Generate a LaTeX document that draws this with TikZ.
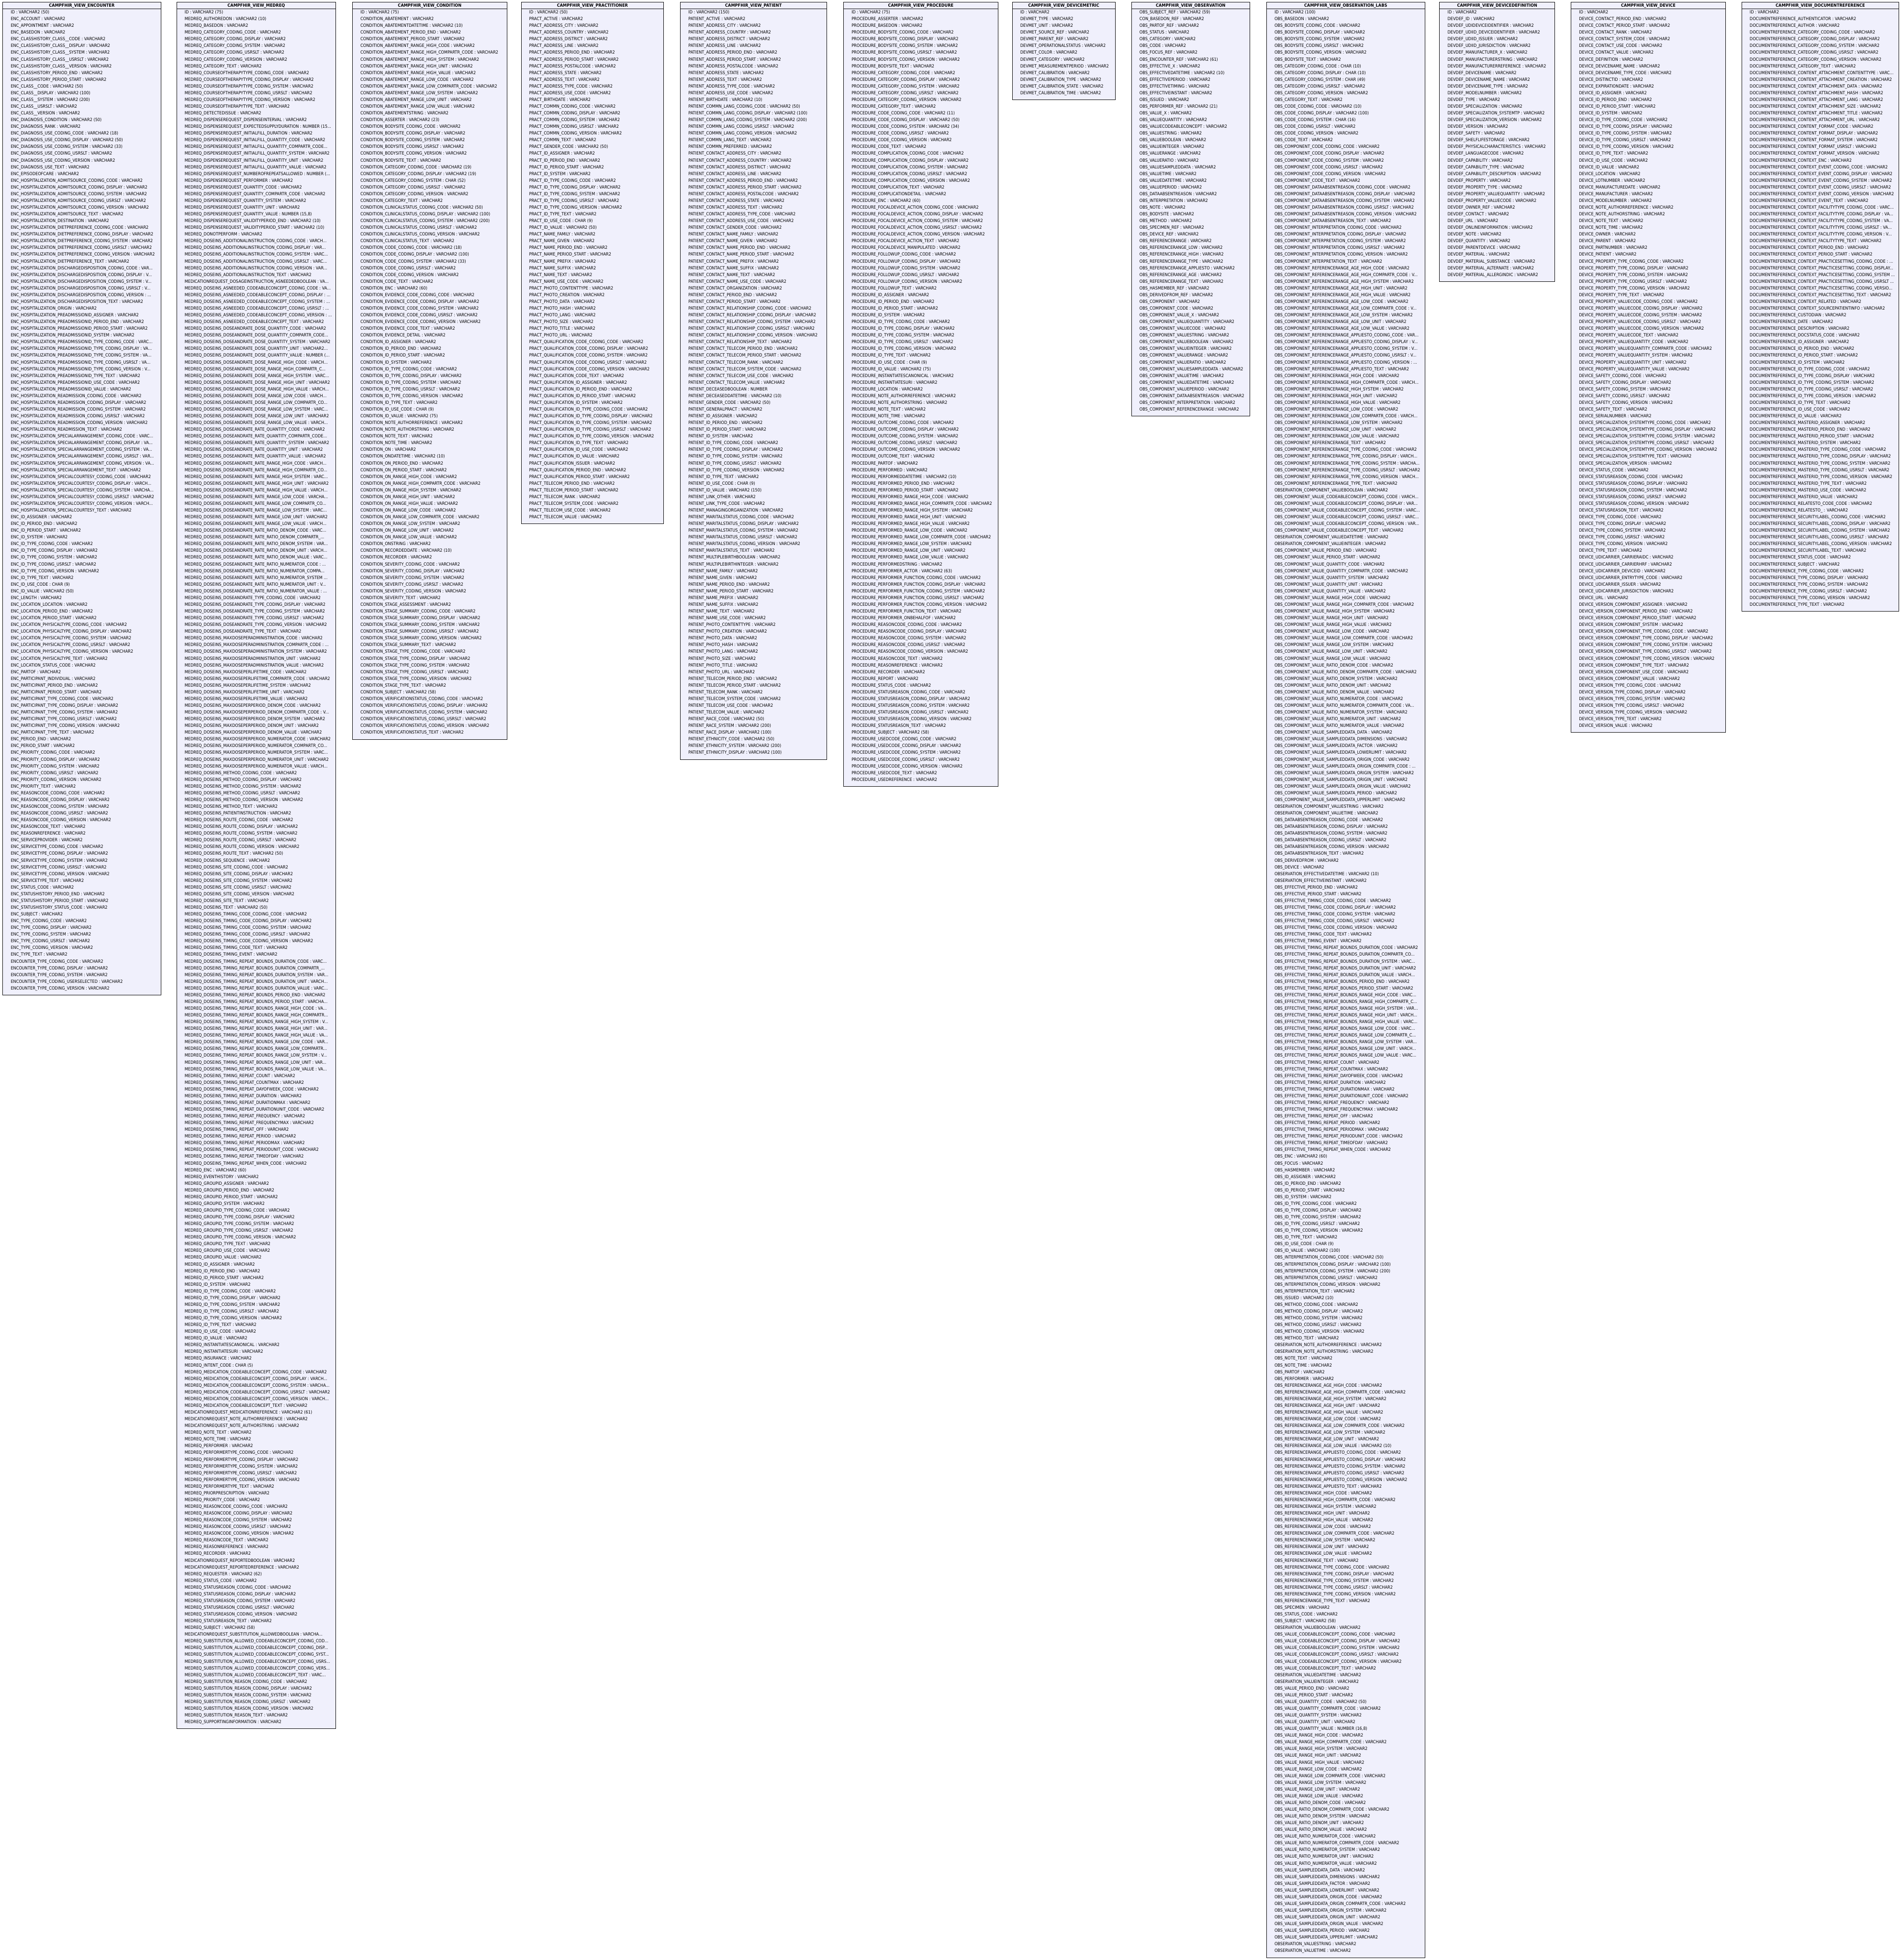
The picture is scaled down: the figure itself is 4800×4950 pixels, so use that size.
\documentclass[tikz,border=0pt]{standalone}
\usepackage{fontspec}
\usetikzlibrary{backgrounds}
\newfontfamily\tfont{DejaVu Sans}[FakeStretch=0.9]
\definecolor{tblfill}{RGB}{240,240,252}
\pgfdeclarelayer{bg}
\pgfsetlayers{bg,main}
\catcode`\_=12
\newcount\rc
\tikzset{
  rowtext/.style={anchor=base west, inner sep=0pt, font=\tfont\fontsize{11}{13}\selectfont},
  hdrtext/.style={anchor=base, inner sep=0pt, font=\tfont\bfseries\fontsize{11}{13}\selectfont},
  tblbox/.style={draw=black, line width=1pt, fill=tblfill},
  tblline/.style={draw=black, line width=1pt}
}
\newcommand\tblbegin[4]{\def\tbxl{#2}\def\tbxr{#3}\def\tbname{#1}\global\rc=0
  \node[hdrtext, name=#1] at ({(#2+#3)/2},17.5) {#4};}
\newcommand\tblend{\begin{pgfonlayer}{bg}\path[tblbox] (\tbxl,5) rectangle (\tbxr,{31+17*\the\rc});\end{pgfonlayer}
  \draw[tblline] (\tbxl,22) -- (\tbxr,22);}
\newcommand\rw[1]{\node[rowtext, name=\tbname-\the\rc] at ({\tbxl+20},{34.5+17*\the\rc}) {#1};\global\advance\rc by 1 }
\newcommand\rv[1]{\rw{#1 : VARCHAR2}}
\newcommand\cod[1]{\rv{#1_CODING_CODE}\rv{#1_CODING_DISPLAY}\rv{#1_CODING_SYSTEM}\rv{#1_CODING_USRSLT}\rv{#1_CODING_VERSION}}
\begin{document}
\begin{tikzpicture}[x=1pt,y=-1pt]
\useasboundingbox (0,0) rectangle (4800,4950);
%% ENCOUNTER
\tblbegin{enc}{7}{406}{CAMPFHIR_VIEW_ENCOUNTER}
\rw{ID : VARCHAR2 (50)}
\rv{ENC_ACCOUNT}\rv{ENC_APPOINTMENT}\rv{ENC_BASEDON}
\rv{ENC_CLASSHISTORY_CLASS__CODE}\rv{ENC_CLASSHISTORY_CLASS__DISPLAY}\rv{ENC_CLASSHISTORY_CLASS__SYSTEM}\rv{ENC_CLASSHISTORY_CLASS__USRSLT}\rv{ENC_CLASSHISTORY_CLASS__VERSION}
\rv{ENC_CLASSHISTORY_PERIOD_END}\rv{ENC_CLASSHISTORY_PERIOD_START}
\rw{ENC_CLASS__CODE : VARCHAR2 (50)}\rw{ENC_CLASS__DISPLAY : VARCHAR2 (100)}\rw{ENC_CLASS__SYSTEM : VARCHAR2 (200)}\rv{ENC_CLASS__USRSLT}\rv{ENC_CLASS__VERSION}
\rw{ENC_DIAGNOSIS_CONDITION : VARCHAR2 (50)}\rv{ENC_DIAGNOSIS_RANK}
\rw{ENC_DIAGNOSIS_USE_CODING_CODE : VARCHAR2 (18)}\rw{ENC_DIAGNOSIS_USE_CODING_DISPLAY : VARCHAR2 (50)}\rw{ENC_DIAGNOSIS_USE_CODING_SYSTEM : VARCHAR2 (33)}\rv{ENC_DIAGNOSIS_USE_CODING_USRSLT}\rv{ENC_DIAGNOSIS_USE_CODING_VERSION}
\rv{ENC_DIAGNOSIS_USE_TEXT}\rv{ENC_EPISODEOFCARE}
\cod{ENC_HOSPITALIZATION_ADMITSOURCE}\rv{ENC_HOSPITALIZATION_ADMITSOURCE_TEXT}
\rv{ENC_HOSPITALIZATION_DESTINATION}
\cod{ENC_HOSPITALIZATION_DIETPREFERENCE}\rv{ENC_HOSPITALIZATION_DIETPREFERENCE_TEXT}
\rw{ENC_HOSPITALIZATION_DISCHARGEDISPOSITION_CODING_CODE : VAR...}
\rw{ENC_HOSPITALIZATION_DISCHARGEDISPOSITION_CODING_DISPLAY : V...}
\rw{ENC_HOSPITALIZATION_DISCHARGEDISPOSITION_CODING_SYSTEM : V...}
\rw{ENC_HOSPITALIZATION_DISCHARGEDISPOSITION_CODING_USRSLT : V...}
\rw{ENC_HOSPITALIZATION_DISCHARGEDISPOSITION_CODING_VERSION : ...}
\rv{ENC_HOSPITALIZATION_DISCHARGEDISPOSITION_TEXT}
\rv{ENC_HOSPITALIZATION_ORIGIN}
\rv{ENC_HOSPITALIZATION_PREADMISSIONID_ASSIGNER}\rv{ENC_HOSPITALIZATION_PREADMISSIONID_PERIOD_END}\rv{ENC_HOSPITALIZATION_PREADMISSIONID_PERIOD_START}\rv{ENC_HOSPITALIZATION_PREADMISSIONID_SYSTEM}
\rw{ENC_HOSPITALIZATION_PREADMISSIONID_TYPE_CODING_CODE : VARC...}
\rw{ENC_HOSPITALIZATION_PREADMISSIONID_TYPE_CODING_DISPLAY : VA...}
\rw{ENC_HOSPITALIZATION_PREADMISSIONID_TYPE_CODING_SYSTEM : VA...}
\rw{ENC_HOSPITALIZATION_PREADMISSIONID_TYPE_CODING_USRSLT : VA...}
\rw{ENC_HOSPITALIZATION_PREADMISSIONID_TYPE_CODING_VERSION : V...}
\rv{ENC_HOSPITALIZATION_PREADMISSIONID_TYPE_TEXT}\rv{ENC_HOSPITALIZATION_PREADMISSIONID_USE_CODE}\rv{ENC_HOSPITALIZATION_PREADMISSIONID_VALUE}
\cod{ENC_HOSPITALIZATION_READMISSION}\rv{ENC_HOSPITALIZATION_READMISSION_TEXT}
\rw{ENC_HOSPITALIZATION_SPECIALARRANGEMENT_CODING_CODE : VARC...}
\rw{ENC_HOSPITALIZATION_SPECIALARRANGEMENT_CODING_DISPLAY : VA...}
\rw{ENC_HOSPITALIZATION_SPECIALARRANGEMENT_CODING_SYSTEM : VA...}
\rw{ENC_HOSPITALIZATION_SPECIALARRANGEMENT_CODING_USRSLT : VAR...}
\rw{ENC_HOSPITALIZATION_SPECIALARRANGEMENT_CODING_VERSION : VA...}
\rv{ENC_HOSPITALIZATION_SPECIALARRANGEMENT_TEXT}
\rv{ENC_HOSPITALIZATION_SPECIALCOURTESY_CODING_CODE}
\rw{ENC_HOSPITALIZATION_SPECIALCOURTESY_CODING_DISPLAY : VARCH...}
\rw{ENC_HOSPITALIZATION_SPECIALCOURTESY_CODING_SYSTEM : VARCHA...}
\rv{ENC_HOSPITALIZATION_SPECIALCOURTESY_CODING_USRSLT}
\rw{ENC_HOSPITALIZATION_SPECIALCOURTESY_CODING_VERSION : VARCH...}
\rv{ENC_HOSPITALIZATION_SPECIALCOURTESY_TEXT}
\rv{ENC_ID_ASSIGNER}\rv{ENC_ID_PERIOD_END}\rv{ENC_ID_PERIOD_START}\rv{ENC_ID_SYSTEM}
\cod{ENC_ID_TYPE}\rv{ENC_ID_TYPE_TEXT}
\rw{ENC_ID_USE_CODE : CHAR (9)}\rw{ENC_ID_VALUE : VARCHAR2 (50)}
\rv{ENC_LENGTH}\rv{ENC_LOCATION_LOCATION}\rv{ENC_LOCATION_PERIOD_END}\rv{ENC_LOCATION_PERIOD_START}
\cod{ENC_LOCATION_PHYSICALTYPE}\rv{ENC_LOCATION_PHYSICALTYPE_TEXT}
\rv{ENC_LOCATION_STATUS_CODE}\rv{ENC_PARTOF}
\rv{ENC_PARTICIPANT_INDIVIDUAL}\rv{ENC_PARTICIPANT_PERIOD_END}\rv{ENC_PARTICIPANT_PERIOD_START}
\cod{ENC_PARTICIPANT_TYPE}\rv{ENC_PARTICIPANT_TYPE_TEXT}
\rv{ENC_PERIOD_END}\rv{ENC_PERIOD_START}
\cod{ENC_PRIORITY}\rv{ENC_PRIORITY_TEXT}
\cod{ENC_REASONCODE}\rv{ENC_REASONCODE_TEXT}
\rv{ENC_REASONREFERENCE}\rv{ENC_SERVICEPROVIDER}
\cod{ENC_SERVICETYPE}\rv{ENC_SERVICETYPE_TEXT}
\rv{ENC_STATUS_CODE}\rv{ENC_STATUSHISTORY_PERIOD_END}\rv{ENC_STATUSHISTORY_PERIOD_START}\rv{ENC_STATUSHISTORY_STATUS_CODE}
\rv{ENC_SUBJECT}
\cod{ENC_TYPE}\rv{ENC_TYPE_TEXT}
\rv{ENCOUNTER_TYPE_CODING_CODE}\rv{ENCOUNTER_TYPE_CODING_DISPLAY}\rv{ENCOUNTER_TYPE_CODING_SYSTEM}\rv{ENCOUNTER_TYPE_CODING_USERSELECTED}\rv{ENCOUNTER_TYPE_CODING_VERSION}
\tblend
%% MEDREQ
\tblbegin{medreq}{446}{848}{CAMPFHIR_VIEW_MEDREQ}
\rw{ID : VARCHAR2 (75)}\rw{MEDREQ_AUTHOREDON : VARCHAR2 (10)}\rv{MEDREQ_BASEDON}
\cod{MEDREQ_CATEGORY}\rv{MEDREQ_CATEGORY_TEXT}
\cod{MEDREQ_COURSEOFTHERAPYTYPE}\rv{MEDREQ_COURSEOFTHERAPYTYPE_TEXT}
\rv{MEDREQ_DETECTEDISSUE}\rv{MEDREQ_DISPENSEREQUEST_DISPENSEINTERVAL}
\rw{MEDREQ_DISPENSEREQUEST_EXPECTEDSUPPLYDURATION : NUMBER (15...}
\rv{MEDREQ_DISPENSEREQUEST_INITIALFILL_DURATION}
\rv{MEDREQ_DISPENSEREQUEST_INITIALFILL_QUANTITY_CODE}
\rw{MEDREQ_DISPENSEREQUEST_INITIALFILL_QUANTITY_COMPARTR_CODE...}
\rv{MEDREQ_DISPENSEREQUEST_INITIALFILL_QUANTITY_SYSTEM}
\rv{MEDREQ_DISPENSEREQUEST_INITIALFILL_QUANTITY_UNIT}
\rv{MEDREQ_DISPENSEREQUEST_INITIALFILL_QUANTITY_VALUE}
\rw{MEDREQ_DISPENSEREQUEST_NUMBEROFREPEATSALLOWED : NUMBER (...}
\rv{MEDREQ_DISPENSEREQUEST_PERFORMER}
\rv{MEDREQ_DISPENSEREQUEST_QUANTITY_CODE}\rv{MEDREQ_DISPENSEREQUEST_QUANTITY_COMPARTR_CODE}\rv{MEDREQ_DISPENSEREQUEST_QUANTITY_SYSTEM}\rv{MEDREQ_DISPENSEREQUEST_QUANTITY_UNIT}
\rw{MEDREQ_DISPENSEREQUEST_QUANTITY_VALUE : NUMBER (15,8)}
\rw{MEDREQ_DISPENSEREQUEST_VALIDITYPERIOD_END : VARCHAR2 (10)}
\rw{MEDREQ_DISPENSEREQUEST_VALIDITYPERIOD_START : VARCHAR2 (10)}
\rv{MEDREQ_DONOTPERFORM}
\rw{MEDREQ_DOSEINS_ADDITIONALINSTRUCTION_CODING_CODE : VARCH...}
\rw{MEDREQ_DOSEINS_ADDITIONALINSTRUCTION_CODING_DISPLAY : VAR...}
\rw{MEDREQ_DOSEINS_ADDITIONALINSTRUCTION_CODING_SYSTEM : VARC...}
\rw{MEDREQ_DOSEINS_ADDITIONALINSTRUCTION_CODING_USRSLT : VARC...}
\rw{MEDREQ_DOSEINS_ADDITIONALINSTRUCTION_CODING_VERSION : VAR...}
\rv{MEDREQ_DOSEINS_ADDITIONALINSTRUCTION_TEXT}
\rw{MEDICATIONREQUEST_DOSAGEINSTRUCTION_ASNEEDEDBOOLEAN : VA...}
\rw{MEDREQ_DOSEINS_ASNEEDED_CODEABLECONCEPT_CODING_CODE : VA...}
\rw{MEDREQ_DOSEINS_ASNEEDED_CODEABLECONCEPT_CODING_DISPLAY : ...}
\rw{MEDREQ_DOSEINS_ASNEEDED_CODEABLECONCEPT_CODING_SYSTEM : ...}
\rw{MEDREQ_DOSEINS_ASNEEDED_CODEABLECONCEPT_CODING_USRSLT : ...}
\rw{MEDREQ_DOSEINS_ASNEEDED_CODEABLECONCEPT_CODING_VERSION : ...}
\rv{MEDREQ_DOSEINS_ASNEEDED_CODEABLECONCEPT_TEXT}
\rv{MEDREQ_DOSEINS_DOSEANDRATE_DOSE_QUANTITY_CODE}
\rw{MEDREQ_DOSEINS_DOSEANDRATE_DOSE_QUANTITY_COMPARTR_CODE...}
\rv{MEDREQ_DOSEINS_DOSEANDRATE_DOSE_QUANTITY_SYSTEM}
\rw{MEDREQ_DOSEINS_DOSEANDRATE_DOSE_QUANTITY_UNIT : VARCHAR2...}
\rw{MEDREQ_DOSEINS_DOSEANDRATE_DOSE_QUANTITY_VALUE : NUMBER (...}
\rw{MEDREQ_DOSEINS_DOSEANDRATE_DOSE_RANGE_HIGH_CODE : VARCH...}
\rw{MEDREQ_DOSEINS_DOSEANDRATE_DOSE_RANGE_HIGH_COMPARTR_C...}
\rw{MEDREQ_DOSEINS_DOSEANDRATE_DOSE_RANGE_HIGH_SYSTEM : VARC...}
\rv{MEDREQ_DOSEINS_DOSEANDRATE_DOSE_RANGE_HIGH_UNIT}
\rw{MEDREQ_DOSEINS_DOSEANDRATE_DOSE_RANGE_HIGH_VALUE : VARCH...}
\rw{MEDREQ_DOSEINS_DOSEANDRATE_DOSE_RANGE_LOW_CODE : VARCH...}
\rw{MEDREQ_DOSEINS_DOSEANDRATE_DOSE_RANGE_LOW_COMPARTR_CO...}
\rw{MEDREQ_DOSEINS_DOSEANDRATE_DOSE_RANGE_LOW_SYSTEM : VARC...}
\rv{MEDREQ_DOSEINS_DOSEANDRATE_DOSE_RANGE_LOW_UNIT}
\rw{MEDREQ_DOSEINS_DOSEANDRATE_DOSE_RANGE_LOW_VALUE : VARCH...}
\rv{MEDREQ_DOSEINS_DOSEANDRATE_RATE_QUANTITY_CODE}
\rw{MEDREQ_DOSEINS_DOSEANDRATE_RATE_QUANTITY_COMPARTR_CODE...}
\rv{MEDREQ_DOSEINS_DOSEANDRATE_RATE_QUANTITY_SYSTEM}
\rv{MEDREQ_DOSEINS_DOSEANDRATE_RATE_QUANTITY_UNIT}
\rv{MEDREQ_DOSEINS_DOSEANDRATE_RATE_QUANTITY_VALUE}
\rw{MEDREQ_DOSEINS_DOSEANDRATE_RATE_RANGE_HIGH_CODE : VARCH...}
\rw{MEDREQ_DOSEINS_DOSEANDRATE_RATE_RANGE_HIGH_COMPARTR_CO...}
\rw{MEDREQ_DOSEINS_DOSEANDRATE_RATE_RANGE_HIGH_SYSTEM : VARC...}
\rv{MEDREQ_DOSEINS_DOSEANDRATE_RATE_RANGE_HIGH_UNIT}
\rw{MEDREQ_DOSEINS_DOSEANDRATE_RATE_RANGE_HIGH_VALUE : VARCH...}
\rw{MEDREQ_DOSEINS_DOSEANDRATE_RATE_RANGE_LOW_CODE : VARCHA...}
\rw{MEDREQ_DOSEINS_DOSEANDRATE_RATE_RANGE_LOW_COMPARTR_CO...}
\rw{MEDREQ_DOSEINS_DOSEANDRATE_RATE_RANGE_LOW_SYSTEM : VARC...}
\rv{MEDREQ_DOSEINS_DOSEANDRATE_RATE_RANGE_LOW_UNIT}
\rw{MEDREQ_DOSEINS_DOSEANDRATE_RATE_RANGE_LOW_VALUE : VARCH...}
\rw{MEDREQ_DOSEINS_DOSEANDRATE_RATE_RATIO_DENOM_CODE : VARC...}
\rw{MEDREQ_DOSEINS_DOSEANDRATE_RATE_RATIO_DENOM_COMPARTR_...}
\rw{MEDREQ_DOSEINS_DOSEANDRATE_RATE_RATIO_DENOM_SYSTEM : VAR...}
\rw{MEDREQ_DOSEINS_DOSEANDRATE_RATE_RATIO_DENOM_UNIT : VARCH...}
\rw{MEDREQ_DOSEINS_DOSEANDRATE_RATE_RATIO_DENOM_VALUE : VARC...}
\rw{MEDREQ_DOSEINS_DOSEANDRATE_RATE_RATIO_NUMERATOR_CODE : ...}
\rw{MEDREQ_DOSEINS_DOSEANDRATE_RATE_RATIO_NUMERATOR_COMPA...}
\rw{MEDREQ_DOSEINS_DOSEANDRATE_RATE_RATIO_NUMERATOR_SYSTEM ...}
\rw{MEDREQ_DOSEINS_DOSEANDRATE_RATE_RATIO_NUMERATOR_UNIT : V...}
\rw{MEDREQ_DOSEINS_DOSEANDRATE_RATE_RATIO_NUMERATOR_VALUE : ...}
\cod{MEDREQ_DOSEINS_DOSEANDRATE_TYPE}\rv{MEDREQ_DOSEINS_DOSEANDRATE_TYPE_TEXT}
\rv{MEDREQ_DOSEINS_MAXDOSEPERADMINISTRATION_CODE}
\rw{MEDREQ_DOSEINS_MAXDOSEPERADMINISTRATION_COMPARTR_CODE : ...}
\rv{MEDREQ_DOSEINS_MAXDOSEPERADMINISTRATION_SYSTEM}\rv{MEDREQ_DOSEINS_MAXDOSEPERADMINISTRATION_UNIT}\rv{MEDREQ_DOSEINS_MAXDOSEPERADMINISTRATION_VALUE}
\rv{MEDREQ_DOSEINS_MAXDOSEPERLIFETIME_CODE}\rv{MEDREQ_DOSEINS_MAXDOSEPERLIFETIME_COMPARTR_CODE}\rv{MEDREQ_DOSEINS_MAXDOSEPERLIFETIME_SYSTEM}\rv{MEDREQ_DOSEINS_MAXDOSEPERLIFETIME_UNIT}\rv{MEDREQ_DOSEINS_MAXDOSEPERLIFETIME_VALUE}
\rv{MEDREQ_DOSEINS_MAXDOSEPERPERIOD_DENOM_CODE}
\rw{MEDREQ_DOSEINS_MAXDOSEPERPERIOD_DENOM_COMPARTR_CODE : V...}
\rv{MEDREQ_DOSEINS_MAXDOSEPERPERIOD_DENOM_SYSTEM}\rv{MEDREQ_DOSEINS_MAXDOSEPERPERIOD_DENOM_UNIT}\rv{MEDREQ_DOSEINS_MAXDOSEPERPERIOD_DENOM_VALUE}
\rv{MEDREQ_DOSEINS_MAXDOSEPERPERIOD_NUMERATOR_CODE}
\rw{MEDREQ_DOSEINS_MAXDOSEPERPERIOD_NUMERATOR_COMPARTR_CO...}
\rw{MEDREQ_DOSEINS_MAXDOSEPERPERIOD_NUMERATOR_SYSTEM : VARC...}
\rv{MEDREQ_DOSEINS_MAXDOSEPERPERIOD_NUMERATOR_UNIT}
\rw{MEDREQ_DOSEINS_MAXDOSEPERPERIOD_NUMERATOR_VALUE : VARCH...}
\cod{MEDREQ_DOSEINS_METHOD}\rv{MEDREQ_DOSEINS_METHOD_TEXT}
\rv{MEDREQ_DOSEINS_PATIENTINSTRUCTION}
\cod{MEDREQ_DOSEINS_ROUTE}\rw{MEDREQ_DOSEINS_ROUTE_TEXT : VARCHAR2 (50)}
\rv{MEDREQ_DOSEINS_SEQUENCE}
\cod{MEDREQ_DOSEINS_SITE}\rv{MEDREQ_DOSEINS_SITE_TEXT}
\rw{MEDREQ_DOSEINS_TEXT : VARCHAR2 (50)}
\cod{MEDREQ_DOSEINS_TIMING_CODE}\rv{MEDREQ_DOSEINS_TIMING_CODE_TEXT}
\rv{MEDREQ_DOSEINS_TIMING_EVENT}
\rw{MEDREQ_DOSEINS_TIMING_REPEAT_BOUNDS_DURATION_CODE : VARC...}
\rw{MEDREQ_DOSEINS_TIMING_REPEAT_BOUNDS_DURATION_COMPARTR_...}
\rw{MEDREQ_DOSEINS_TIMING_REPEAT_BOUNDS_DURATION_SYSTEM : VAR...}
\rw{MEDREQ_DOSEINS_TIMING_REPEAT_BOUNDS_DURATION_UNIT : VARCH...}
\rw{MEDREQ_DOSEINS_TIMING_REPEAT_BOUNDS_DURATION_VALUE : VARC...}
\rv{MEDREQ_DOSEINS_TIMING_REPEAT_BOUNDS_PERIOD_END}
\rw{MEDREQ_DOSEINS_TIMING_REPEAT_BOUNDS_PERIOD_START : VARCHA...}
\rw{MEDREQ_DOSEINS_TIMING_REPEAT_BOUNDS_RANGE_HIGH_CODE : VA...}
\rw{MEDREQ_DOSEINS_TIMING_REPEAT_BOUNDS_RANGE_HIGH_COMPARTR...}
\rw{MEDREQ_DOSEINS_TIMING_REPEAT_BOUNDS_RANGE_HIGH_SYSTEM : V...}
\rw{MEDREQ_DOSEINS_TIMING_REPEAT_BOUNDS_RANGE_HIGH_UNIT : VAR...}
\rw{MEDREQ_DOSEINS_TIMING_REPEAT_BOUNDS_RANGE_HIGH_VALUE : VA...}
\rw{MEDREQ_DOSEINS_TIMING_REPEAT_BOUNDS_RANGE_LOW_CODE : VAR...}
\rw{MEDREQ_DOSEINS_TIMING_REPEAT_BOUNDS_RANGE_LOW_COMPARTR...}
\rw{MEDREQ_DOSEINS_TIMING_REPEAT_BOUNDS_RANGE_LOW_SYSTEM : V...}
\rw{MEDREQ_DOSEINS_TIMING_REPEAT_BOUNDS_RANGE_LOW_UNIT : VAR...}
\rw{MEDREQ_DOSEINS_TIMING_REPEAT_BOUNDS_RANGE_LOW_VALUE : VA...}
\rv{MEDREQ_DOSEINS_TIMING_REPEAT_COUNT}\rv{MEDREQ_DOSEINS_TIMING_REPEAT_COUNTMAX}\rv{MEDREQ_DOSEINS_TIMING_REPEAT_DAYOFWEEK_CODE}\rv{MEDREQ_DOSEINS_TIMING_REPEAT_DURATION}\rv{MEDREQ_DOSEINS_TIMING_REPEAT_DURATIONMAX}\rv{MEDREQ_DOSEINS_TIMING_REPEAT_DURATIONUNIT_CODE}\rv{MEDREQ_DOSEINS_TIMING_REPEAT_FREQUENCY}\rv{MEDREQ_DOSEINS_TIMING_REPEAT_FREQUENCYMAX}\rv{MEDREQ_DOSEINS_TIMING_REPEAT_OFF}\rv{MEDREQ_DOSEINS_TIMING_REPEAT_PERIOD}\rv{MEDREQ_DOSEINS_TIMING_REPEAT_PERIODMAX}\rv{MEDREQ_DOSEINS_TIMING_REPEAT_PERIODUNIT_CODE}\rv{MEDREQ_DOSEINS_TIMING_REPEAT_TIMEOFDAY}\rv{MEDREQ_DOSEINS_TIMING_REPEAT_WHEN_CODE}
\rw{MEDREQ_ENC : VARCHAR2 (60)}\rv{MEDREQ_EVENTHISTORY}
\rv{MEDREQ_GROUPID_ASSIGNER}\rv{MEDREQ_GROUPID_PERIOD_END}\rv{MEDREQ_GROUPID_PERIOD_START}\rv{MEDREQ_GROUPID_SYSTEM}
\cod{MEDREQ_GROUPID_TYPE}\rv{MEDREQ_GROUPID_TYPE_TEXT}\rv{MEDREQ_GROUPID_USE_CODE}\rv{MEDREQ_GROUPID_VALUE}
\rv{MEDREQ_ID_ASSIGNER}\rv{MEDREQ_ID_PERIOD_END}\rv{MEDREQ_ID_PERIOD_START}\rv{MEDREQ_ID_SYSTEM}
\cod{MEDREQ_ID_TYPE}\rv{MEDREQ_ID_TYPE_TEXT}\rv{MEDREQ_ID_USE_CODE}\rv{MEDREQ_ID_VALUE}
\rv{MEDREQ_INSTANTIATESCANONICAL}\rv{MEDREQ_INSTANTIATESURI}\rv{MEDREQ_INSURANCE}
\rw{MEDREQ_INTENT_CODE : CHAR (5)}
\rv{MEDREQ_MEDICATION_CODEABLECONCEPT_CODING_CODE}
\rw{MEDREQ_MEDICATION_CODEABLECONCEPT_CODING_DISPLAY : VARCH...}
\rw{MEDREQ_MEDICATION_CODEABLECONCEPT_CODING_SYSTEM : VARCHA...}
\rv{MEDREQ_MEDICATION_CODEABLECONCEPT_CODING_USRSLT}
\rw{MEDREQ_MEDICATION_CODEABLECONCEPT_CODING_VERSION : VARCH...}
\rv{MEDREQ_MEDICATION_CODEABLECONCEPT_TEXT}
\rw{MEDICATIONREQUEST_MEDICATIONREFERENCE : VARCHAR2 (61)}
\rv{MEDICATIONREQUEST_NOTE_AUTHORREFERENCE}\rv{MEDICATIONREQUEST_NOTE_AUTHORSTRING}
\rv{MEDREQ_NOTE_TEXT}\rv{MEDREQ_NOTE_TIME}\rv{MEDREQ_PERFORMER}
\cod{MEDREQ_PERFORMERTYPE}\rv{MEDREQ_PERFORMERTYPE_TEXT}
\rv{MEDREQ_PRIORPRESCRIPTION}\rv{MEDREQ_PRIORITY_CODE}
\cod{MEDREQ_REASONCODE}\rv{MEDREQ_REASONCODE_TEXT}
\rv{MEDREQ_REASONREFERENCE}\rv{MEDREQ_RECORDER}
\rv{MEDICATIONREQUEST_REPORTEDBOOLEAN}\rv{MEDICATIONREQUEST_REPORTEDREFERENCE}
\rw{MEDREQ_REQUESTER : VARCHAR2 (62)}\rv{MEDREQ_STATUS_CODE}
\cod{MEDREQ_STATUSREASON}\rv{MEDREQ_STATUSREASON_TEXT}
\rw{MEDREQ_SUBJECT : VARCHAR2 (58)}
\rw{MEDICATIONREQUEST_SUBSTITUTION_ALLOWEDBOOLEAN : VARCHA...}
\rw{MEDREQ_SUBSTITUTION_ALLOWED_CODEABLECONCEPT_CODING_COD...}
\rw{MEDREQ_SUBSTITUTION_ALLOWED_CODEABLECONCEPT_CODING_DISP...}
\rw{MEDREQ_SUBSTITUTION_ALLOWED_CODEABLECONCEPT_CODING_SYST...}
\rw{MEDREQ_SUBSTITUTION_ALLOWED_CODEABLECONCEPT_CODING_USRS...}
\rw{MEDREQ_SUBSTITUTION_ALLOWED_CODEABLECONCEPT_CODING_VERS...}
\rw{MEDREQ_SUBSTITUTION_ALLOWED_CODEABLECONCEPT_TEXT : VARC...}
\cod{MEDREQ_SUBSTITUTION_REASON}\rv{MEDREQ_SUBSTITUTION_REASON_TEXT}
\rv{MEDREQ_SUPPORTINGINFORMATION}
\tblend
%% CONDITION
\tblbegin{cond}{890}{1280}{CAMPFHIR_VIEW_CONDITION}
\rw{ID : VARCHAR2 (75)}\rv{CONDITION_ABATEMENT}\rw{CONDITION_ABATEMENTDATETIME : VARCHAR2 (10)}
\rv{CONDITION_ABATEMENT_PERIOD_END}\rv{CONDITION_ABATEMENT_PERIOD_START}
\rv{CONDITION_ABATEMENT_RANGE_HIGH_CODE}\rv{CONDITION_ABATEMENT_RANGE_HIGH_COMPARTR_CODE}\rv{CONDITION_ABATEMENT_RANGE_HIGH_SYSTEM}\rv{CONDITION_ABATEMENT_RANGE_HIGH_UNIT}\rv{CONDITION_ABATEMENT_RANGE_HIGH_VALUE}
\rv{CONDITION_ABATEMENT_RANGE_LOW_CODE}\rv{CONDITION_ABATEMENT_RANGE_LOW_COMPARTR_CODE}\rv{CONDITION_ABATEMENT_RANGE_LOW_SYSTEM}\rv{CONDITION_ABATEMENT_RANGE_LOW_UNIT}\rv{CONDITION_ABATEMENT_RANGE_LOW_VALUE}
\rv{CONDITION_ABATEMENTSTRING}\rw{CONDITION_ASSERTER : VARCHAR2 (23)}
\cod{CONDITION_BODYSITE}\rv{CONDITION_BODYSITE_TEXT}
\rw{CONDITION_CATEGORY_CODING_CODE : VARCHAR2 (19)}\rw{CONDITION_CATEGORY_CODING_DISPLAY : VARCHAR2 (19)}\rw{CONDITION_CATEGORY_CODING_SYSTEM : CHAR (52)}\rv{CONDITION_CATEGORY_CODING_USRSLT}\rv{CONDITION_CATEGORY_CODING_VERSION}
\rv{CONDITION_CATEGORY_TEXT}
\rw{CONDITION_CLINICALSTATUS_CODING_CODE : VARCHAR2 (50)}\rw{CONDITION_CLINICALSTATUS_CODING_DISPLAY : VARCHAR2 (100)}\rw{CONDITION_CLINICALSTATUS_CODING_SYSTEM : VARCHAR2 (200)}\rv{CONDITION_CLINICALSTATUS_CODING_USRSLT}\rv{CONDITION_CLINICALSTATUS_CODING_VERSION}
\rv{CONDITION_CLINICALSTATUS_TEXT}
\rw{CONDITION_CODE_CODING_CODE : VARCHAR2 (18)}\rw{CONDITION_CODE_CODING_DISPLAY : VARCHAR2 (100)}\rw{CONDITION_CODE_CODING_SYSTEM : VARCHAR2 (33)}\rv{CONDITION_CODE_CODING_USRSLT}\rv{CONDITION_CODE_CODING_VERSION}
\rv{CONDITION_CODE_TEXT}\rw{CONDITION_ENC : VARCHAR2 (60)}
\cod{CONDITION_EVIDENCE_CODE}\rv{CONDITION_EVIDENCE_CODE_TEXT}\rv{CONDITION_EVIDENCE_DETAIL}
\rv{CONDITION_ID_ASSIGNER}\rv{CONDITION_ID_PERIOD_END}\rv{CONDITION_ID_PERIOD_START}\rv{CONDITION_ID_SYSTEM}
\cod{CONDITION_ID_TYPE}\rv{CONDITION_ID_TYPE_TEXT}
\rw{CONDITION_ID_USE_CODE : CHAR (9)}\rw{CONDITION_ID_VALUE : VARCHAR2 (75)}
\rv{CONDITION_NOTE_AUTHORREFERENCE}\rv{CONDITION_NOTE_AUTHORSTRING}\rv{CONDITION_NOTE_TEXT}\rv{CONDITION_NOTE_TIME}
\rv{CONDITION_ON}\rw{CONDITION_ONDATETIME : VARCHAR2 (10)}
\rv{CONDITION_ON_PERIOD_END}\rv{CONDITION_ON_PERIOD_START}
\rv{CONDITION_ON_RANGE_HIGH_CODE}\rv{CONDITION_ON_RANGE_HIGH_COMPARTR_CODE}\rv{CONDITION_ON_RANGE_HIGH_SYSTEM}\rv{CONDITION_ON_RANGE_HIGH_UNIT}\rv{CONDITION_ON_RANGE_HIGH_VALUE}
\rv{CONDITION_ON_RANGE_LOW_CODE}\rv{CONDITION_ON_RANGE_LOW_COMPARTR_CODE}\rv{CONDITION_ON_RANGE_LOW_SYSTEM}\rv{CONDITION_ON_RANGE_LOW_UNIT}\rv{CONDITION_ON_RANGE_LOW_VALUE}
\rv{CONDITION_ONSTRING}\rw{CONDITION_RECORDEDDATE : VARCHAR2 (10)}\rv{CONDITION_RECORDER}
\cod{CONDITION_SEVERITY}\rv{CONDITION_SEVERITY_TEXT}
\rv{CONDITION_STAGE_ASSESSMENT}
\cod{CONDITION_STAGE_SUMMARY}\rv{CONDITION_STAGE_SUMMARY_TEXT}
\cod{CONDITION_STAGE_TYPE}\rv{CONDITION_STAGE_TYPE_TEXT}
\rw{CONDITION_SUBJECT : VARCHAR2 (58)}
\cod{CONDITION_VERIFICATIONSTATUS}\rv{CONDITION_VERIFICATIONSTATUS_TEXT}
\tblend
%% PRACTITIONER
\tblbegin{pract}{1316}{1676}{CAMPFHIR_VIEW_PRACTITIONER}
\rw{ID : VARCHAR2 (50)}\rv{PRACT_ACTIVE}
\rv{PRACT_ADDRESS_CITY}\rv{PRACT_ADDRESS_COUNTRY}\rv{PRACT_ADDRESS_DISTRICT}\rv{PRACT_ADDRESS_LINE}\rv{PRACT_ADDRESS_PERIOD_END}\rv{PRACT_ADDRESS_PERIOD_START}\rv{PRACT_ADDRESS_POSTALCODE}\rv{PRACT_ADDRESS_STATE}\rv{PRACT_ADDRESS_TEXT}\rv{PRACT_ADDRESS_TYPE_CODE}\rv{PRACT_ADDRESS_USE_CODE}
\rv{PRACT_BIRTHDATE}
\cod{PRACT_COMMN}\rv{PRACT_COMMN_TEXT}
\rw{PRACT_GENDER_CODE : VARCHAR2 (50)}
\rv{PRACT_ID_ASSIGNER}\rv{PRACT_ID_PERIOD_END}\rv{PRACT_ID_PERIOD_START}\rv{PRACT_ID_SYSTEM}
\cod{PRACT_ID_TYPE}\rv{PRACT_ID_TYPE_TEXT}
\rw{PRACT_ID_USE_CODE : CHAR (9)}\rw{PRACT_ID_VALUE : VARCHAR2 (50)}
\rv{PRACT_NAME_FAMILY}\rv{PRACT_NAME_GIVEN}\rv{PRACT_NAME_PERIOD_END}\rv{PRACT_NAME_PERIOD_START}\rv{PRACT_NAME_PREFIX}\rv{PRACT_NAME_SUFFIX}\rv{PRACT_NAME_TEXT}\rv{PRACT_NAME_USE_CODE}
\rv{PRACT_PHOTO_CONTENTTYPE}\rv{PRACT_PHOTO_CREATION}\rv{PRACT_PHOTO_DATA}\rv{PRACT_PHOTO_HASH}\rv{PRACT_PHOTO_LANG}\rv{PRACT_PHOTO_SIZE}\rv{PRACT_PHOTO_TITLE}\rv{PRACT_PHOTO_URL}
\cod{PRACT_QUALIFICATION_CODE}\rv{PRACT_QUALIFICATION_CODE_TEXT}
\rv{PRACT_QUALIFICATION_ID_ASSIGNER}\rv{PRACT_QUALIFICATION_ID_PERIOD_END}\rv{PRACT_QUALIFICATION_ID_PERIOD_START}\rv{PRACT_QUALIFICATION_ID_SYSTEM}
\cod{PRACT_QUALIFICATION_ID_TYPE}\rv{PRACT_QUALIFICATION_ID_TYPE_TEXT}
\rv{PRACT_QUALIFICATION_ID_USE_CODE}\rv{PRACT_QUALIFICATION_ID_VALUE}\rv{PRACT_QUALIFICATION_ISSUER}
\rv{PRACT_QUALIFICATION_PERIOD_END}\rv{PRACT_QUALIFICATION_PERIOD_START}
\rv{PRACT_TELECOM_PERIOD_END}\rv{PRACT_TELECOM_PERIOD_START}\rv{PRACT_TELECOM_RANK}\rv{PRACT_TELECOM_SYSTEM_CODE}\rv{PRACT_TELECOM_USE_CODE}\rv{PRACT_TELECOM_VALUE}
\tblend
%% PATIENT
\tblbegin{patient}{1718}{2087}{CAMPFHIR_VIEW_PATIENT}
\rw{ID : VARCHAR2 (150)}\rv{PATIENT_ACTIVE}
\rv{PATIENT_ADDRESS_CITY}\rv{PATIENT_ADDRESS_COUNTRY}\rv{PATIENT_ADDRESS_DISTRICT}\rv{PATIENT_ADDRESS_LINE}\rv{PATIENT_ADDRESS_PERIOD_END}\rv{PATIENT_ADDRESS_PERIOD_START}\rv{PATIENT_ADDRESS_POSTALCODE}\rv{PATIENT_ADDRESS_STATE}\rv{PATIENT_ADDRESS_TEXT}\rv{PATIENT_ADDRESS_TYPE_CODE}\rv{PATIENT_ADDRESS_USE_CODE}
\rw{PATIENT_BIRTHDATE : VARCHAR2 (10)}
\rw{PATIENT_COMMN_LANG_CODING_CODE : VARCHAR2 (50)}\rw{PATIENT_COMMN_LANG_CODING_DISPLAY : VARCHAR2 (100)}\rw{PATIENT_COMMN_LANG_CODING_SYSTEM : VARCHAR2 (200)}\rv{PATIENT_COMMN_LANG_CODING_USRSLT}\rv{PATIENT_COMMN_LANG_CODING_VERSION}
\rv{PATIENT_COMMN_LANG_TEXT}\rv{PATIENT_COMMN_PREFERRED}
\rv{PATIENT_CONTACT_ADDRESS_CITY}\rv{PATIENT_CONTACT_ADDRESS_COUNTRY}\rv{PATIENT_CONTACT_ADDRESS_DISTRICT}\rv{PATIENT_CONTACT_ADDRESS_LINE}\rv{PATIENT_CONTACT_ADDRESS_PERIOD_END}\rv{PATIENT_CONTACT_ADDRESS_PERIOD_START}\rv{PATIENT_CONTACT_ADDRESS_POSTALCODE}\rv{PATIENT_CONTACT_ADDRESS_STATE}\rv{PATIENT_CONTACT_ADDRESS_TEXT}\rv{PATIENT_CONTACT_ADDRESS_TYPE_CODE}\rv{PATIENT_CONTACT_ADDRESS_USE_CODE}
\rv{PATIENT_CONTACT_GENDER_CODE}
\rv{PATIENT_CONTACT_NAME_FAMILY}\rv{PATIENT_CONTACT_NAME_GIVEN}\rv{PATIENT_CONTACT_NAME_PERIOD_END}\rv{PATIENT_CONTACT_NAME_PERIOD_START}\rv{PATIENT_CONTACT_NAME_PREFIX}\rv{PATIENT_CONTACT_NAME_SUFFIX}\rv{PATIENT_CONTACT_NAME_TEXT}\rv{PATIENT_CONTACT_NAME_USE_CODE}
\rv{PATIENT_CONTACT_ORGANIZATION}\rv{PATIENT_CONTACT_PERIOD_END}\rv{PATIENT_CONTACT_PERIOD_START}
\cod{PATIENT_CONTACT_RELATIONSHIP}\rv{PATIENT_CONTACT_RELATIONSHIP_TEXT}
\rv{PATIENT_CONTACT_TELECOM_PERIOD_END}\rv{PATIENT_CONTACT_TELECOM_PERIOD_START}\rv{PATIENT_CONTACT_TELECOM_RANK}\rv{PATIENT_CONTACT_TELECOM_SYSTEM_CODE}\rv{PATIENT_CONTACT_TELECOM_USE_CODE}\rv{PATIENT_CONTACT_TELECOM_VALUE}
\rw{PATIENT_DECEASEDBOOLEAN : NUMBER}\rw{PATIENT_DECEASEDDATETIME : VARCHAR2 (10)}
\rw{PATIENT_GENDER_CODE : VARCHAR2 (50)}\rv{PATIENT_GENERALPRACT}
\rv{PATIENT_ID_ASSIGNER}\rv{PATIENT_ID_PERIOD_END}\rv{PATIENT_ID_PERIOD_START}\rv{PATIENT_ID_SYSTEM}
\cod{PATIENT_ID_TYPE}\rv{PATIENT_ID_TYPE_TEXT}
\rw{PATIENT_ID_USE_CODE : CHAR (9)}\rw{PATIENT_ID_VALUE : VARCHAR2 (150)}
\rv{PATIENT_LINK_OTHER}\rv{PATIENT_LINK_TYPE_CODE}\rv{PATIENT_MANAGINGORGANIZATION}
\cod{PATIENT_MARITALSTATUS}\rv{PATIENT_MARITALSTATUS_TEXT}
\rv{PATIENT_MULTIPLEBIRTHBOOLEAN}\rv{PATIENT_MULTIPLEBIRTHINTEGER}
\rv{PATIENT_NAME_FAMILY}\rv{PATIENT_NAME_GIVEN}\rv{PATIENT_NAME_PERIOD_END}\rv{PATIENT_NAME_PERIOD_START}\rv{PATIENT_NAME_PREFIX}\rv{PATIENT_NAME_SUFFIX}\rv{PATIENT_NAME_TEXT}\rv{PATIENT_NAME_USE_CODE}
\rv{PATIENT_PHOTO_CONTENTTYPE}\rv{PATIENT_PHOTO_CREATION}\rv{PATIENT_PHOTO_DATA}\rv{PATIENT_PHOTO_HASH}\rv{PATIENT_PHOTO_LANG}\rv{PATIENT_PHOTO_SIZE}\rv{PATIENT_PHOTO_TITLE}\rv{PATIENT_PHOTO_URL}
\rv{PATIENT_TELECOM_PERIOD_END}\rv{PATIENT_TELECOM_PERIOD_START}\rv{PATIENT_TELECOM_RANK}\rv{PATIENT_TELECOM_SYSTEM_CODE}\rv{PATIENT_TELECOM_USE_CODE}\rv{PATIENT_TELECOM_VALUE}
\rw{PATIENT_RACE_CODE : VARCHAR2 (50)}\rw{PATIENT_RACE_SYSTEM : VARCHAR2 (200)}\rw{PATIENT_RACE_DISPLAY : VARCHAR2 (100)}
\rw{PATIENT_ETHNICITY_CODE : VARCHAR2 (50)}\rw{PATIENT_ETHNICITY_SYSTEM : VARCHAR2 (200)}\rw{PATIENT_ETHNICITY_DISPLAY : VARCHAR2 (100)}
\tblend
%% PROCEDURE
\tblbegin{proc}{2130}{2520}{CAMPFHIR_VIEW_PROCEDURE}
\rw{ID : VARCHAR2 (75)}\rv{PROCEDURE_ASSERTER}\rv{PROCEDURE_BASEDON}
\cod{PROCEDURE_BODYSITE}\rv{PROCEDURE_BODYSITE_TEXT}
\cod{PROCEDURE_CATEGORY}\rv{PROCEDURE_CATEGORY_TEXT}
\rw{PROCEDURE_CODE_CODING_CODE : VARCHAR2 (11)}\rw{PROCEDURE_CODE_CODING_DISPLAY : VARCHAR2 (50)}\rw{PROCEDURE_CODE_CODING_SYSTEM : VARCHAR2 (34)}\rv{PROCEDURE_CODE_CODING_USRSLT}\rv{PROCEDURE_CODE_CODING_VERSION}
\rv{PROCEDURE_CODE_TEXT}
\cod{PROCEDURE_COMPLICATION}\rv{PROCEDURE_COMPLICATION_TEXT}\rv{PROCEDURE_COMPLICATIONDETAIL}
\rw{PROCEDURE_ENC : VARCHAR2 (60)}
\cod{PROCEDURE_FOCALDEVICE_ACTION}\rv{PROCEDURE_FOCALDEVICE_ACTION_TEXT}\rv{PROCEDURE_FOCALDEVICE_MANIPULATED}
\cod{PROCEDURE_FOLLOWUP}\rv{PROCEDURE_FOLLOWUP_TEXT}
\rv{PROCEDURE_ID_ASSIGNER}\rv{PROCEDURE_ID_PERIOD_END}\rv{PROCEDURE_ID_PERIOD_START}\rv{PROCEDURE_ID_SYSTEM}
\cod{PROCEDURE_ID_TYPE}\rv{PROCEDURE_ID_TYPE_TEXT}
\rw{PROCEDURE_ID_USE_CODE : CHAR (9)}\rw{PROCEDURE_ID_VALUE : VARCHAR2 (75)}
\rv{PROCEDURE_INSTANTIATESCANONICAL}\rv{PROCEDURE_INSTANTIATESURI}\rv{PROCEDURE_LOCATION}
\rv{PROCEDURE_NOTE_AUTHORREFERENCE}\rv{PROCEDURE_NOTE_AUTHORSTRING}\rv{PROCEDURE_NOTE_TEXT}\rv{PROCEDURE_NOTE_TIME}
\cod{PROCEDURE_OUTCOME}\rv{PROCEDURE_OUTCOME_TEXT}
\rv{PROCEDURE_PARTOF}\rv{PROCEDURE_PERFORMED}\rw{PROCEDURE_PERFORMEDDATETIME : VARCHAR2 (10)}
\rv{PROCEDURE_PERFORMED_PERIOD_END}\rv{PROCEDURE_PERFORMED_PERIOD_START}
\rv{PROCEDURE_PERFORMED_RANGE_HIGH_CODE}\rv{PROCEDURE_PERFORMED_RANGE_HIGH_COMPARTR_CODE}\rv{PROCEDURE_PERFORMED_RANGE_HIGH_SYSTEM}\rv{PROCEDURE_PERFORMED_RANGE_HIGH_UNIT}\rv{PROCEDURE_PERFORMED_RANGE_HIGH_VALUE}
\rv{PROCEDURE_PERFORMED_RANGE_LOW_CODE}\rv{PROCEDURE_PERFORMED_RANGE_LOW_COMPARTR_CODE}\rv{PROCEDURE_PERFORMED_RANGE_LOW_SYSTEM}\rv{PROCEDURE_PERFORMED_RANGE_LOW_UNIT}\rv{PROCEDURE_PERFORMED_RANGE_LOW_VALUE}
\rv{PROCEDURE_PERFORMEDSTRING}\rw{PROCEDURE_PERFORMER_ACTOR : VARCHAR2 (63)}
\cod{PROCEDURE_PERFORMER_FUNCTION}\rv{PROCEDURE_PERFORMER_FUNCTION_TEXT}\rv{PROCEDURE_PERFORMER_ONBEHALFOF}
\cod{PROCEDURE_REASONCODE}\rv{PROCEDURE_REASONCODE_TEXT}\rv{PROCEDURE_REASONREFERENCE}
\rv{PROCEDURE_RECORDER}\rv{PROCEDURE_REPORT}\rv{PROCEDURE_STATUS_CODE}
\cod{PROCEDURE_STATUSREASON}\rv{PROCEDURE_STATUSREASON_TEXT}
\rw{PROCEDURE_SUBJECT : VARCHAR2 (58)}
\cod{PROCEDURE_USEDCODE}\rv{PROCEDURE_USEDCODE_TEXT}\rv{PROCEDURE_USEDREFERENCE}
\tblend
%% DEVICEMETRIC
\tblbegin{devmet}{2556}{2816}{CAMPFHIR_VIEW_DEVICEMETRIC}
\rv{ID}\rv{DEVMET_TYPE}\rv{DEVMET_UNIT}\rv{DEVMET_SOURCE_REF}\rv{DEVMET_PARENT_REF}\rv{DEVMET_OPERATIONALSTATUS}\rv{DEVMET_COLOR}\rv{DEVMET_CATEGORY}\rv{DEVMET_MEASUREMENTPERIOD}\rv{DEVMET_CALIBRATION}\rv{DEVMET_CALIBRATION_TYPE}\rv{DEVMET_CALIBRATION_STATE}\rv{DEVMET_CALIBRATION_TIME}
\tblend
%% OBSERVATION
\tblbegin{obs}{2857}{3156}{CAMPFHIR_VIEW_OBSERVATION}
\rw{OBS_SUBJECT_REF : VARCHAR2 (59)}\rv{CON_BASEDON_REF}\rv{OBS_PARTOF_REF}\rv{OBS_STATUS}\rv{OBS_CATEGORY}\rv{OBS_CODE}\rv{OBS_FOCUS_REF}
\rw{OBS_ENCOUNTER_REF : VARCHAR2 (61)}\rv{OBS_EFFECTIVE_X}\rw{OBS_EFFECTIVEDATETIME : VARCHAR2 (10)}
\rv{OBS_EFFECTIVEPERIOD}\rv{OBS_EFFECTIVETIMING}\rv{OBS_EFFECTIVEINSTANT}\rv{OBS_ISSUED}
\rw{OBS_PERFORMER_REF : VARCHAR2 (21)}\rv{OBS_VALUE_X}\rv{OBS_VALUEQUANTITY}\rv{OBS_VALUECODEABLECONCEPT}\rv{OBS_VALUESTRING}\rv{OBS_VALUEBOOLEAN}\rv{OBS_VALUEINTEGER}\rv{OBS_VALUERANGE}\rv{OBS_VALUERATIO}\rv{OBS_VALUESAMPLEDDATA}\rv{OBS_VALUETIME}\rv{OBS_VALUEDATETIME}\rv{OBS_VALUEPERIOD}
\rv{OBS_DATAABSENTREASON}\rv{OBS_INTERPRETATION}\rv{OBS_NOTE}\rv{OBS_BODYSITE}\rv{OBS_METHOD}\rv{OBS_SPECIMEN_REF}\rv{OBS_DEVICE_REF}
\rv{OBS_REFERENCERANGE}\rv{OBS_REFERENCERANGE_LOW}\rv{OBS_REFERENCERANGE_HIGH}\rv{OBS_REFERENCERANGE_TYPE}\rv{OBS_REFERENCERANGE_APPLIESTO}\rv{OBS_REFERENCERANGE_AGE}\rv{OBS_REFERENCERANGE_TEXT}
\rv{OBS_HASMEMBER_REF}\rv{OBS_DERIVEDFROM_REF}
\rv{OBS_COMPONENT}\rv{OBS_COMPONENT_CODE}\rv{OBS_COMPONENT_VALUE_X}\rv{OBS_COMPONENT_VALUEQUANTITY}\rv{OBS_COMPONENT_VALUECODE}\rv{OBS_COMPONENT_VALUESTRING}\rv{OBS_COMPONENT_VALUEBOOLEAN}\rv{OBS_COMPONENT_VALUEINTEGER}\rv{OBS_COMPONENT_VALUERANGE}\rv{OBS_COMPONENT_VALUERATIO}\rv{OBS_COMPONENT_VALUESAMPLEDDATA}\rv{OBS_COMPONENT_VALUETIME}\rv{OBS_COMPONENT_VALUEDATETIME}\rv{OBS_COMPONENT_VALUEPERIOD}\rv{OBS_COMPONENT_DATAABSENTREASON}\rv{OBS_COMPONENT_INTERPRETATION}\rv{OBS_COMPONENT_REFERENCERANGE}
\tblend
%% OBSERVATION_LABS
\tblbegin{labs}{3198}{3598}{CAMPFHIR_VIEW_OBSERVATION_LABS}
\rw{ID : VARCHAR2 (100)}\rv{OBS_BASEDON}
\cod{OBS_BODYSITE}\rv{OBS_BODYSITE_TEXT}
\rw{OBS_CATEGORY_CODING_CODE : CHAR (10)}\rw{OBS_CATEGORY_CODING_DISPLAY : CHAR (10)}\rw{OBS_CATEGORY_CODING_SYSTEM : CHAR (49)}\rv{OBS_CATEGORY_CODING_USRSLT}\rv{OBS_CATEGORY_CODING_VERSION}
\rv{OBS_CATEGORY_TEXT}
\rw{OBS_CODE_CODING_CODE : VARCHAR2 (10)}\rw{OBS_CODE_CODING_DISPLAY : VARCHAR2 (100)}\rw{OBS_CODE_CODING_SYSTEM : CHAR (16)}\rv{OBS_CODE_CODING_USRSLT}\rv{OBS_CODE_CODING_VERSION}
\rv{OBS_CODE_TEXT}
\cod{OBS_COMPONENT_CODE}\rv{OBS_COMPONENT_CODE_TEXT}
\cod{OBS_COMPONENT_DATAABSENTREASON}\rv{OBS_COMPONENT_DATAABSENTREASON_TEXT}
\cod{OBS_COMPONENT_INTERPRETATION}\rv{OBS_COMPONENT_INTERPRETATION_TEXT}
\rv{OBS_COMPONENT_REFERENCERANGE_AGE_HIGH_CODE}
\rw{OBS_COMPONENT_REFERENCERANGE_AGE_HIGH_COMPARTR_CODE : V...}
\rv{OBS_COMPONENT_REFERENCERANGE_AGE_HIGH_SYSTEM}\rv{OBS_COMPONENT_REFERENCERANGE_AGE_HIGH_UNIT}\rv{OBS_COMPONENT_REFERENCERANGE_AGE_HIGH_VALUE}
\rv{OBS_COMPONENT_REFERENCERANGE_AGE_LOW_CODE}
\rw{OBS_COMPONENT_REFERENCERANGE_AGE_LOW_COMPARTR_CODE : V...}
\rv{OBS_COMPONENT_REFERENCERANGE_AGE_LOW_SYSTEM}\rv{OBS_COMPONENT_REFERENCERANGE_AGE_LOW_UNIT}\rv{OBS_COMPONENT_REFERENCERANGE_AGE_LOW_VALUE}
\rw{OBS_COMPONENT_REFERENCERANGE_APPLIESTO_CODING_CODE : VAR...}
\rw{OBS_COMPONENT_REFERENCERANGE_APPLIESTO_CODING_DISPLAY : V...}
\rw{OBS_COMPONENT_REFERENCERANGE_APPLIESTO_CODING_SYSTEM : V...}
\rw{OBS_COMPONENT_REFERENCERANGE_APPLIESTO_CODING_USRSLT : V...}
\rw{OBS_COMPONENT_REFERENCERANGE_APPLIESTO_CODING_VERSION : ...}
\rv{OBS_COMPONENT_REFERENCERANGE_APPLIESTO_TEXT}
\rv{OBS_COMPONENT_REFERENCERANGE_HIGH_CODE}
\rw{OBS_COMPONENT_REFERENCERANGE_HIGH_COMPARTR_CODE : VARCH...}
\rv{OBS_COMPONENT_REFERENCERANGE_HIGH_SYSTEM}\rv{OBS_COMPONENT_REFERENCERANGE_HIGH_UNIT}\rv{OBS_COMPONENT_REFERENCERANGE_HIGH_VALUE}
\rv{OBS_COMPONENT_REFERENCERANGE_LOW_CODE}
\rw{OBS_COMPONENT_REFERENCERANGE_LOW_COMPARTR_CODE : VARCH...}
\rv{OBS_COMPONENT_REFERENCERANGE_LOW_SYSTEM}\rv{OBS_COMPONENT_REFERENCERANGE_LOW_UNIT}\rv{OBS_COMPONENT_REFERENCERANGE_LOW_VALUE}
\rv{OBS_COMPONENT_REFERENCERANGE_TEXT}
\rv{OBS_COMPONENT_REFERENCERANGE_TYPE_CODING_CODE}
\rw{OBS_COMPONENT_REFERENCERANGE_TYPE_CODING_DISPLAY : VARCH...}
\rw{OBS_COMPONENT_REFERENCERANGE_TYPE_CODING_SYSTEM : VARCHA...}
\rv{OBS_COMPONENT_REFERENCERANGE_TYPE_CODING_USRSLT}
\rw{OBS_COMPONENT_REFERENCERANGE_TYPE_CODING_VERSION : VARCH...}
\rv{OBS_COMPONENT_REFERENCERANGE_TYPE_TEXT}
\rv{OBSERVATION_COMPONENT_VALUEBOOLEAN}
\rw{OBS_COMPONENT_VALUE_CODEABLECONCEPT_CODING_CODE : VARCH...}
\rw{OBS_COMPONENT_VALUE_CODEABLECONCEPT_CODING_DISPLAY : VAR...}
\rw{OBS_COMPONENT_VALUE_CODEABLECONCEPT_CODING_SYSTEM : VARC...}
\rw{OBS_COMPONENT_VALUE_CODEABLECONCEPT_CODING_USRSLT : VARC...}
\rw{OBS_COMPONENT_VALUE_CODEABLECONCEPT_CODING_VERSION : VAR...}
\rv{OBS_COMPONENT_VALUE_CODEABLECONCEPT_TEXT}
\rv{OBSERVATION_COMPONENT_VALUEDATETIME}\rv{OBSERVATION_COMPONENT_VALUEINTEGER}
\rv{OBS_COMPONENT_VALUE_PERIOD_END}\rv{OBS_COMPONENT_VALUE_PERIOD_START}
\rv{OBS_COMPONENT_VALUE_QUANTITY_CODE}\rv{OBS_COMPONENT_VALUE_QUANTITY_COMPARTR_CODE}\rv{OBS_COMPONENT_VALUE_QUANTITY_SYSTEM}\rv{OBS_COMPONENT_VALUE_QUANTITY_UNIT}\rv{OBS_COMPONENT_VALUE_QUANTITY_VALUE}
\rv{OBS_COMPONENT_VALUE_RANGE_HIGH_CODE}\rv{OBS_COMPONENT_VALUE_RANGE_HIGH_COMPARTR_CODE}\rv{OBS_COMPONENT_VALUE_RANGE_HIGH_SYSTEM}\rv{OBS_COMPONENT_VALUE_RANGE_HIGH_UNIT}\rv{OBS_COMPONENT_VALUE_RANGE_HIGH_VALUE}
\rv{OBS_COMPONENT_VALUE_RANGE_LOW_CODE}\rv{OBS_COMPONENT_VALUE_RANGE_LOW_COMPARTR_CODE}\rv{OBS_COMPONENT_VALUE_RANGE_LOW_SYSTEM}\rv{OBS_COMPONENT_VALUE_RANGE_LOW_UNIT}\rv{OBS_COMPONENT_VALUE_RANGE_LOW_VALUE}
\rv{OBS_COMPONENT_VALUE_RATIO_DENOM_CODE}\rv{OBS_COMPONENT_VALUE_RATIO_DENOM_COMPARTR_CODE}\rv{OBS_COMPONENT_VALUE_RATIO_DENOM_SYSTEM}\rv{OBS_COMPONENT_VALUE_RATIO_DENOM_UNIT}\rv{OBS_COMPONENT_VALUE_RATIO_DENOM_VALUE}
\rv{OBS_COMPONENT_VALUE_RATIO_NUMERATOR_CODE}
\rw{OBS_COMPONENT_VALUE_RATIO_NUMERATOR_COMPARTR_CODE : VA...}
\rv{OBS_COMPONENT_VALUE_RATIO_NUMERATOR_SYSTEM}\rv{OBS_COMPONENT_VALUE_RATIO_NUMERATOR_UNIT}\rv{OBS_COMPONENT_VALUE_RATIO_NUMERATOR_VALUE}
\rv{OBS_COMPONENT_VALUE_SAMPLEDDATA_DATA}\rv{OBS_COMPONENT_VALUE_SAMPLEDDATA_DIMENSIONS}\rv{OBS_COMPONENT_VALUE_SAMPLEDDATA_FACTOR}\rv{OBS_COMPONENT_VALUE_SAMPLEDDATA_LOWERLIMIT}\rv{OBS_COMPONENT_VALUE_SAMPLEDDATA_ORIGIN_CODE}
\rw{OBS_COMPONENT_VALUE_SAMPLEDDATA_ORIGIN_COMPARTR_CODE : ...}
\rv{OBS_COMPONENT_VALUE_SAMPLEDDATA_ORIGIN_SYSTEM}\rv{OBS_COMPONENT_VALUE_SAMPLEDDATA_ORIGIN_UNIT}\rv{OBS_COMPONENT_VALUE_SAMPLEDDATA_ORIGIN_VALUE}\rv{OBS_COMPONENT_VALUE_SAMPLEDDATA_PERIOD}\rv{OBS_COMPONENT_VALUE_SAMPLEDDATA_UPPERLIMIT}
\rv{OBSERVATION_COMPONENT_VALUESTRING}\rv{OBSERVATION_COMPONENT_VALUETIME}
\cod{OBS_DATAABSENTREASON}\rv{OBS_DATAABSENTREASON_TEXT}
\rv{OBS_DERIVEDFROM}\rv{OBS_DEVICE}
\rw{OBSERVATION_EFFECTIVEDATETIME : VARCHAR2 (10)}\rv{OBSERVATION_EFFECTIVEINSTANT}
\rv{OBS_EFFECTIVE_PERIOD_END}\rv{OBS_EFFECTIVE_PERIOD_START}
\cod{OBS_EFFECTIVE_TIMING_CODE}\rv{OBS_EFFECTIVE_TIMING_CODE_TEXT}\rv{OBS_EFFECTIVE_TIMING_EVENT}
\rv{OBS_EFFECTIVE_TIMING_REPEAT_BOUNDS_DURATION_CODE}
\rw{OBS_EFFECTIVE_TIMING_REPEAT_BOUNDS_DURATION_COMPARTR_CO...}
\rw{OBS_EFFECTIVE_TIMING_REPEAT_BOUNDS_DURATION_SYSTEM : VARC...}
\rv{OBS_EFFECTIVE_TIMING_REPEAT_BOUNDS_DURATION_UNIT}
\rw{OBS_EFFECTIVE_TIMING_REPEAT_BOUNDS_DURATION_VALUE : VARCH...}
\rv{OBS_EFFECTIVE_TIMING_REPEAT_BOUNDS_PERIOD_END}\rv{OBS_EFFECTIVE_TIMING_REPEAT_BOUNDS_PERIOD_START}
\rw{OBS_EFFECTIVE_TIMING_REPEAT_BOUNDS_RANGE_HIGH_CODE : VARC...}
\rw{OBS_EFFECTIVE_TIMING_REPEAT_BOUNDS_RANGE_HIGH_COMPARTR_C...}
\rw{OBS_EFFECTIVE_TIMING_REPEAT_BOUNDS_RANGE_HIGH_SYSTEM : VAR...}
\rw{OBS_EFFECTIVE_TIMING_REPEAT_BOUNDS_RANGE_HIGH_UNIT : VARCH...}
\rw{OBS_EFFECTIVE_TIMING_REPEAT_BOUNDS_RANGE_HIGH_VALUE : VARC...}
\rw{OBS_EFFECTIVE_TIMING_REPEAT_BOUNDS_RANGE_LOW_CODE : VARC...}
\rw{OBS_EFFECTIVE_TIMING_REPEAT_BOUNDS_RANGE_LOW_COMPARTR_C...}
\rw{OBS_EFFECTIVE_TIMING_REPEAT_BOUNDS_RANGE_LOW_SYSTEM : VAR...}
\rw{OBS_EFFECTIVE_TIMING_REPEAT_BOUNDS_RANGE_LOW_UNIT : VARCH...}
\rw{OBS_EFFECTIVE_TIMING_REPEAT_BOUNDS_RANGE_LOW_VALUE : VARC...}
\rv{OBS_EFFECTIVE_TIMING_REPEAT_COUNT}\rv{OBS_EFFECTIVE_TIMING_REPEAT_COUNTMAX}\rv{OBS_EFFECTIVE_TIMING_REPEAT_DAYOFWEEK_CODE}\rv{OBS_EFFECTIVE_TIMING_REPEAT_DURATION}\rv{OBS_EFFECTIVE_TIMING_REPEAT_DURATIONMAX}\rv{OBS_EFFECTIVE_TIMING_REPEAT_DURATIONUNIT_CODE}\rv{OBS_EFFECTIVE_TIMING_REPEAT_FREQUENCY}\rv{OBS_EFFECTIVE_TIMING_REPEAT_FREQUENCYMAX}\rv{OBS_EFFECTIVE_TIMING_REPEAT_OFF}\rv{OBS_EFFECTIVE_TIMING_REPEAT_PERIOD}\rv{OBS_EFFECTIVE_TIMING_REPEAT_PERIODMAX}\rv{OBS_EFFECTIVE_TIMING_REPEAT_PERIODUNIT_CODE}\rv{OBS_EFFECTIVE_TIMING_REPEAT_TIMEOFDAY}\rv{OBS_EFFECTIVE_TIMING_REPEAT_WHEN_CODE}
\rw{OBS_ENC : VARCHAR2 (60)}\rv{OBS_FOCUS}\rv{OBS_HASMEMBER}
\rv{OBS_ID_ASSIGNER}\rv{OBS_ID_PERIOD_END}\rv{OBS_ID_PERIOD_START}\rv{OBS_ID_SYSTEM}
\cod{OBS_ID_TYPE}\rv{OBS_ID_TYPE_TEXT}
\rw{OBS_ID_USE_CODE : CHAR (9)}\rw{OBS_ID_VALUE : VARCHAR2 (100)}
\rw{OBS_INTERPRETATION_CODING_CODE : VARCHAR2 (50)}\rw{OBS_INTERPRETATION_CODING_DISPLAY : VARCHAR2 (100)}\rw{OBS_INTERPRETATION_CODING_SYSTEM : VARCHAR2 (200)}\rv{OBS_INTERPRETATION_CODING_USRSLT}\rv{OBS_INTERPRETATION_CODING_VERSION}
\rv{OBS_INTERPRETATION_TEXT}\rw{OBS_ISSUED : VARCHAR2 (10)}
\cod{OBS_METHOD}\rv{OBS_METHOD_TEXT}
\rv{OBSERVATION_NOTE_AUTHORREFERENCE}\rv{OBSERVATION_NOTE_AUTHORSTRING}\rv{OBS_NOTE_TEXT}\rv{OBS_NOTE_TIME}
\rv{OBS_PARTOF}\rv{OBS_PERFORMER}
\rv{OBS_REFERENCERANGE_AGE_HIGH_CODE}\rv{OBS_REFERENCERANGE_AGE_HIGH_COMPARTR_CODE}\rv{OBS_REFERENCERANGE_AGE_HIGH_SYSTEM}\rv{OBS_REFERENCERANGE_AGE_HIGH_UNIT}\rv{OBS_REFERENCERANGE_AGE_HIGH_VALUE}
\rv{OBS_REFERENCERANGE_AGE_LOW_CODE}\rv{OBS_REFERENCERANGE_AGE_LOW_COMPARTR_CODE}\rv{OBS_REFERENCERANGE_AGE_LOW_SYSTEM}\rv{OBS_REFERENCERANGE_AGE_LOW_UNIT}\rw{OBS_REFERENCERANGE_AGE_LOW_VALUE : VARCHAR2 (10)}
\cod{OBS_REFERENCERANGE_APPLIESTO}\rv{OBS_REFERENCERANGE_APPLIESTO_TEXT}
\rv{OBS_REFERENCERANGE_HIGH_CODE}\rv{OBS_REFERENCERANGE_HIGH_COMPARTR_CODE}\rv{OBS_REFERENCERANGE_HIGH_SYSTEM}\rv{OBS_REFERENCERANGE_HIGH_UNIT}\rv{OBS_REFERENCERANGE_HIGH_VALUE}
\rv{OBS_REFERENCERANGE_LOW_CODE}\rv{OBS_REFERENCERANGE_LOW_COMPARTR_CODE}\rv{OBS_REFERENCERANGE_LOW_SYSTEM}\rv{OBS_REFERENCERANGE_LOW_UNIT}\rv{OBS_REFERENCERANGE_LOW_VALUE}
\rv{OBS_REFERENCERANGE_TEXT}
\cod{OBS_REFERENCERANGE_TYPE}\rv{OBS_REFERENCERANGE_TYPE_TEXT}
\rv{OBS_SPECIMEN}\rv{OBS_STATUS_CODE}\rw{OBS_SUBJECT : VARCHAR2 (58)}
\rv{OBSERVATION_VALUEBOOLEAN}
\cod{OBS_VALUE_CODEABLECONCEPT}\rv{OBS_VALUE_CODEABLECONCEPT_TEXT}
\rv{OBSERVATION_VALUEDATETIME}\rv{OBSERVATION_VALUEINTEGER}
\rv{OBS_VALUE_PERIOD_END}\rv{OBS_VALUE_PERIOD_START}
\rw{OBS_VALUE_QUANTITY_CODE : VARCHAR2 (50)}\rv{OBS_VALUE_QUANTITY_COMPARTR_CODE}\rv{OBS_VALUE_QUANTITY_SYSTEM}\rv{OBS_VALUE_QUANTITY_UNIT}\rw{OBS_VALUE_QUANTITY_VALUE : NUMBER (16,8)}
\rv{OBS_VALUE_RANGE_HIGH_CODE}\rv{OBS_VALUE_RANGE_HIGH_COMPARTR_CODE}\rv{OBS_VALUE_RANGE_HIGH_SYSTEM}\rv{OBS_VALUE_RANGE_HIGH_UNIT}\rv{OBS_VALUE_RANGE_HIGH_VALUE}
\rv{OBS_VALUE_RANGE_LOW_CODE}\rv{OBS_VALUE_RANGE_LOW_COMPARTR_CODE}\rv{OBS_VALUE_RANGE_LOW_SYSTEM}\rv{OBS_VALUE_RANGE_LOW_UNIT}\rv{OBS_VALUE_RANGE_LOW_VALUE}
\rv{OBS_VALUE_RATIO_DENOM_CODE}\rv{OBS_VALUE_RATIO_DENOM_COMPARTR_CODE}\rv{OBS_VALUE_RATIO_DENOM_SYSTEM}\rv{OBS_VALUE_RATIO_DENOM_UNIT}\rv{OBS_VALUE_RATIO_DENOM_VALUE}
\rv{OBS_VALUE_RATIO_NUMERATOR_CODE}\rv{OBS_VALUE_RATIO_NUMERATOR_COMPARTR_CODE}\rv{OBS_VALUE_RATIO_NUMERATOR_SYSTEM}\rv{OBS_VALUE_RATIO_NUMERATOR_UNIT}\rv{OBS_VALUE_RATIO_NUMERATOR_VALUE}
\rv{OBS_VALUE_SAMPLEDDATA_DATA}\rv{OBS_VALUE_SAMPLEDDATA_DIMENSIONS}\rv{OBS_VALUE_SAMPLEDDATA_FACTOR}\rv{OBS_VALUE_SAMPLEDDATA_LOWERLIMIT}\rv{OBS_VALUE_SAMPLEDDATA_ORIGIN_CODE}\rv{OBS_VALUE_SAMPLEDDATA_ORIGIN_COMPARTR_CODE}\rv{OBS_VALUE_SAMPLEDDATA_ORIGIN_SYSTEM}\rv{OBS_VALUE_SAMPLEDDATA_ORIGIN_UNIT}\rv{OBS_VALUE_SAMPLEDDATA_ORIGIN_VALUE}\rv{OBS_VALUE_SAMPLEDDATA_PERIOD}\rv{OBS_VALUE_SAMPLEDDATA_UPPERLIMIT}
\rv{OBSERVATION_VALUESTRING}\rv{OBSERVATION_VALUETIME}
\tblend
%% DEVICEDEFINITION
\tblbegin{devdef}{3635}{3926}{CAMPFHIR_VIEW_DEVICEDEFINITION}
\rv{ID}\rv{DEVDEF_ID}\rv{DEVDEF_UDIDEVICEIDENTIFIER}\rv{DEVDEF_UDIID_DEVICEIDENTIFIER}\rv{DEVDEF_UDIID_ISSUER}\rv{DEVDEF_UDIID_JURISDICTION}
\rv{DEVDEF_MANUFACTURER_X}\rv{DEVDEF_MANUFACTURERSTRING}\rv{DEVDEF_MANUFACTURERREFERENCE}
\rv{DEVDEF_DEVICENAME}\rv{DEVDEF_DEVICENAME_NAME}\rv{DEVDEF_DEVICENAME_TYPE}\rv{DEVDEF_MODELNUMBER}\rv{DEVDEF_TYPE}
\rv{DEVDEF_SPECIALIZATION}\rv{DEVDEF_SPECIALIZATION_SYSTEMTP}\rv{DEVDEF_SPECIALIZATION_VERSION}\rv{DEVDEF_VERSION}
\rv{DEVDEF_SAFETY}\rv{DEVDEF_SHELFLIFESTORAGE}\rv{DEVDEF_PHYSICALCHARACTERISTICS}\rv{DEVDEF_LANGUAGECODE}
\rv{DEVDEF_CAPABILITY}\rv{DEVDEF_CAPABILITY_TYPE}\rv{DEVDEF_CAPABILITY_DESCRIPTION}
\rv{DEVDEF_PROPERTY}\rv{DEVDEF_PROPERTY_TYPE}\rv{DEVDEF_PROPERTY_VALUEQUANTITY}\rv{DEVDEF_PROPERTY_VALUECODE}
\rv{DEVDEF_OWNER_REF}\rv{DEVDEF_CONTACT}\rv{DEVDEF_URL}\rv{DEVDEF_ONLINEINFORMATION}\rv{DEVDEF_NOTE}\rv{DEVDEF_QUANTITY}\rv{DEVDEF_PARENTDEVICE}
\rv{DEVDEF_MATERIAL}\rv{DEVDEF_MATERIAL_SUBSTANCE}\rv{DEVDEF_MATERIAL_ALTERNATE}\rv{DEVDEF_MATERIAL_ALLERGINDIC}
\tblend
%% DEVICE
\tblbegin{device}{3967}{4357}{CAMPFHIR_VIEW_DEVICE}
\rv{ID}
\rv{DEVICE_CONTACT_PERIOD_END}\rv{DEVICE_CONTACT_PERIOD_START}\rv{DEVICE_CONTACT_RANK}\rv{DEVICE_CONTACT_SYSTEM_CODE}\rv{DEVICE_CONTACT_USE_CODE}\rv{DEVICE_CONTACT_VALUE}
\rv{DEVICE_DEFINITION}\rv{DEVICE_DEVICENAME_NAME}\rv{DEVICE_DEVICENAME_TYPE_CODE}\rv{DEVICE_DISTINCTID}\rv{DEVICE_EXPIRATIONDATE}
\rv{DEVICE_ID_ASSIGNER}\rv{DEVICE_ID_PERIOD_END}\rv{DEVICE_ID_PERIOD_START}\rv{DEVICE_ID_SYSTEM}
\cod{DEVICE_ID_TYPE}\rv{DEVICE_ID_TYPE_TEXT}\rv{DEVICE_ID_USE_CODE}\rv{DEVICE_ID_VALUE}
\rv{DEVICE_LOCATION}\rv{DEVICE_LOTNUMBER}\rv{DEVICE_MANUFACTUREDATE}\rv{DEVICE_MANUFACTURER}\rv{DEVICE_MODELNUMBER}
\rv{DEVICE_NOTE_AUTHORREFERENCE}\rv{DEVICE_NOTE_AUTHORSTRING}\rv{DEVICE_NOTE_TEXT}\rv{DEVICE_NOTE_TIME}
\rv{DEVICE_OWNER}\rv{DEVICE_PARENT}\rv{DEVICE_PARTNUMBER}\rv{DEVICE_PATIENT}
\cod{DEVICE_PROPERTY_TYPE}\rv{DEVICE_PROPERTY_TYPE_TEXT}
\cod{DEVICE_PROPERTY_VALUECODE}\rv{DEVICE_PROPERTY_VALUECODE_TEXT}
\rv{DEVICE_PROPERTY_VALUEQUANTITY_CODE}\rv{DEVICE_PROPERTY_VALUEQUANTITY_COMPARTR_CODE}\rv{DEVICE_PROPERTY_VALUEQUANTITY_SYSTEM}\rv{DEVICE_PROPERTY_VALUEQUANTITY_UNIT}\rv{DEVICE_PROPERTY_VALUEQUANTITY_VALUE}
\cod{DEVICE_SAFETY}\rv{DEVICE_SAFETY_TEXT}\rv{DEVICE_SERIALNUMBER}
\cod{DEVICE_SPECIALIZATION_SYSTEMTYPE}\rv{DEVICE_SPECIALIZATION_SYSTEMTYPE_TEXT}\rv{DEVICE_SPECIALIZATION_VERSION}
\rv{DEVICE_STATUS_CODE}
\cod{DEVICE_STATUSREASON}\rv{DEVICE_STATUSREASON_TEXT}
\cod{DEVICE_TYPE}\rv{DEVICE_TYPE_TEXT}
\rv{DEVICE_UDICARRIER_CARRIERAIDC}\rv{DEVICE_UDICARRIER_CARRIERHRF}\rv{DEVICE_UDICARRIER_DEVICEID}\rv{DEVICE_UDICARRIER_ENTRYTYPE_CODE}\rv{DEVICE_UDICARRIER_ISSUER}\rv{DEVICE_UDICARRIER_JURISDICTION}
\rv{DEVICE_URL}
\rv{DEVICE_VERSION_COMPONENT_ASSIGNER}\rv{DEVICE_VERSION_COMPONENT_PERIOD_END}\rv{DEVICE_VERSION_COMPONENT_PERIOD_START}\rv{DEVICE_VERSION_COMPONENT_SYSTEM}
\cod{DEVICE_VERSION_COMPONENT_TYPE}\rv{DEVICE_VERSION_COMPONENT_TYPE_TEXT}\rv{DEVICE_VERSION_COMPONENT_USE_CODE}\rv{DEVICE_VERSION_COMPONENT_VALUE}
\cod{DEVICE_VERSION_TYPE}\rv{DEVICE_VERSION_TYPE_TEXT}\rv{DEVICE_VERSION_VALUE}
\tblend
%% DOCUMENTREFERENCE
\tblbegin{docref}{4398}{4795}{CAMPFHIR_VIEW_DOCUMENTREFERENCE}
\rv{ID}\rv{DOCUMENTREFERENCE_AUTHENTICATOR}\rv{DOCUMENTREFERENCE_AUTHOR}
\cod{DOCUMENTREFERENCE_CATEGORY}\rv{DOCUMENTREFERENCE_CATEGORY_TEXT}
\rw{DOCUMENTREFERENCE_CONTENT_ATTACHMENT_CONTENTTYPE : VARC...}
\rv{DOCUMENTREFERENCE_CONTENT_ATTACHMENT_CREATION}\rv{DOCUMENTREFERENCE_CONTENT_ATTACHMENT_DATA}\rv{DOCUMENTREFERENCE_CONTENT_ATTACHMENT_HASH}\rv{DOCUMENTREFERENCE_CONTENT_ATTACHMENT_LANG}\rv{DOCUMENTREFERENCE_CONTENT_ATTACHMENT_SIZE}\rv{DOCUMENTREFERENCE_CONTENT_ATTACHMENT_TITLE}\rv{DOCUMENTREFERENCE_CONTENT_ATTACHMENT_URL}
\rv{DOCUMENTREFERENCE_CONTENT_FORMAT_CODE}\rv{DOCUMENTREFERENCE_CONTENT_FORMAT_DISPLAY}\rv{DOCUMENTREFERENCE_CONTENT_FORMAT_SYSTEM}\rv{DOCUMENTREFERENCE_CONTENT_FORMAT_USRSLT}\rv{DOCUMENTREFERENCE_CONTENT_FORMAT_VERSION}
\rv{DOCUMENTREFERENCE_CONTEXT_ENC}
\cod{DOCUMENTREFERENCE_CONTEXT_EVENT}\rv{DOCUMENTREFERENCE_CONTEXT_EVENT_TEXT}
\rw{DOCUMENTREFERENCE_CONTEXT_FACILITYTYPE_CODING_CODE : VARC...}
\rw{DOCUMENTREFERENCE_CONTEXT_FACILITYTYPE_CODING_DISPLAY : VA...}
\rw{DOCUMENTREFERENCE_CONTEXT_FACILITYTYPE_CODING_SYSTEM : VA...}
\rw{DOCUMENTREFERENCE_CONTEXT_FACILITYTYPE_CODING_USRSLT : VA...}
\rw{DOCUMENTREFERENCE_CONTEXT_FACILITYTYPE_CODING_VERSION : V...}
\rv{DOCUMENTREFERENCE_CONTEXT_FACILITYTYPE_TEXT}
\rv{DOCUMENTREFERENCE_CONTEXT_PERIOD_END}\rv{DOCUMENTREFERENCE_CONTEXT_PERIOD_START}
\rw{DOCUMENTREFERENCE_CONTEXT_PRACTICESETTING_CODING_CODE : ...}
\rw{DOCUMENTREFERENCE_CONTEXT_PRACTICESETTING_CODING_DISPLAY...}
\rw{DOCUMENTREFERENCE_CONTEXT_PRACTICESETTING_CODING_SYSTEM ...}
\rw{DOCUMENTREFERENCE_CONTEXT_PRACTICESETTING_CODING_USRSLT ...}
\rw{DOCUMENTREFERENCE_CONTEXT_PRACTICESETTING_CODING_VERSIO...}
\rv{DOCUMENTREFERENCE_CONTEXT_PRACTICESETTING_TEXT}
\rv{DOCUMENTREFERENCE_CONTEXT_RELATED}\rv{DOCUMENTREFERENCE_CONTEXT_SOURCEPATIENTINFO}
\rv{DOCUMENTREFERENCE_CUSTODIAN}\rv{DOCUMENTREFERENCE_DATE}\rv{DOCUMENTREFERENCE_DESCRIPTION}\rv{DOCUMENTREFERENCE_DOCSTATUS_CODE}
\rv{DOCUMENTREFERENCE_ID_ASSIGNER}\rv{DOCUMENTREFERENCE_ID_PERIOD_END}\rv{DOCUMENTREFERENCE_ID_PERIOD_START}\rv{DOCUMENTREFERENCE_ID_SYSTEM}
\cod{DOCUMENTREFERENCE_ID_TYPE}\rv{DOCUMENTREFERENCE_ID_TYPE_TEXT}\rv{DOCUMENTREFERENCE_ID_USE_CODE}\rv{DOCUMENTREFERENCE_ID_VALUE}
\rv{DOCUMENTREFERENCE_MASTERID_ASSIGNER}\rv{DOCUMENTREFERENCE_MASTERID_PERIOD_END}\rv{DOCUMENTREFERENCE_MASTERID_PERIOD_START}\rv{DOCUMENTREFERENCE_MASTERID_SYSTEM}
\cod{DOCUMENTREFERENCE_MASTERID_TYPE}\rv{DOCUMENTREFERENCE_MASTERID_TYPE_TEXT}\rv{DOCUMENTREFERENCE_MASTERID_USE_CODE}\rv{DOCUMENTREFERENCE_MASTERID_VALUE}
\rv{DOCUMENTREFERENCE_RELATESTO_CODE_CODE}\rv{DOCUMENTREFERENCE_RELATESTO_}
\cod{DOCUMENTREFERENCE_SECURITYLABEL}\rv{DOCUMENTREFERENCE_SECURITYLABEL_TEXT}
\rv{DOCUMENTREFERENCE_STATUS_CODE}\rv{DOCUMENTREFERENCE_SUBJECT}
\cod{DOCUMENTREFERENCE_TYPE}\rv{DOCUMENTREFERENCE_TYPE_TEXT}
\tblend
\end{tikzpicture}
\end{document}
